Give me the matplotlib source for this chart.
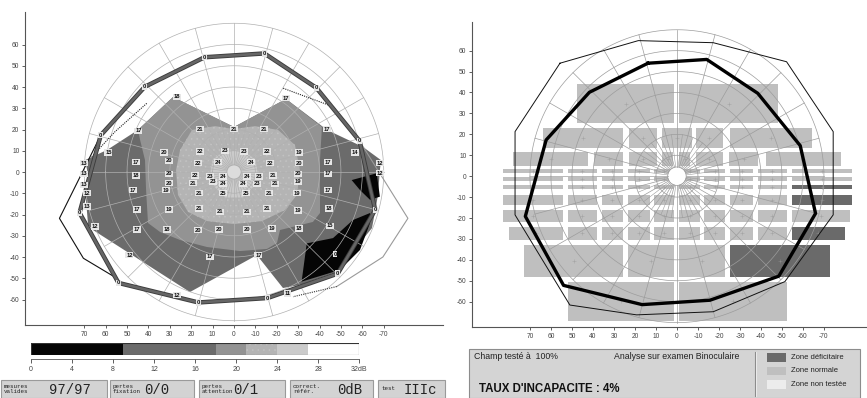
import matplotlib
matplotlib.use("Agg")
import matplotlib.pyplot as plt
from matplotlib.patches import Polygon, Rectangle, Circle
import numpy as np

plt.rcParams['font.family'] = ['Liberation Sans', 'DejaVu Sans']
plt.rcParams['axes.unicode_minus'] = False
plt.rcParams['hatch.linewidth'] = 0.4

# --- data (degrees of visual field) ---
# measured isopter, same on both charts
iso_x = [13.8, -14.2, -38.5, -58.7, -66.0, -48.5, -15.7, 16.6, 54.0, 72.2, 62.3, 41.7]
iso_y = [54.0, 55.8, 39.6, 14.6, -17.8, -47.8, -59.3, -61.4, -52.2, -19.2, 17.3, 40.1]

# normal reference isopter (right chart)
norm_x = [55.7, 18.4, -17.3, -52.2, -74.4, -74.4, -51.4, -17.3, 19.2, 51.0, 77.1, 77.1]
norm_y = [54.0, 64.8, 63.8, 54.7, 21.3, -18.5, -50.4, -64.8, -66.3, -61.6, -18.5, 21.3]

# extra reference traces on the left chart
ref_left_x = [62.3, 81.6, 70.4, 54.8, 54.0]
ref_left_y = [17.3, -21.8, -40.6, -50.0, -52.2]
ref_right_x = [-58.7, -81.3, -69.6, -48.0]
ref_right_y = [14.6, -21.8, -40.0, -53.9]
dot_low_x, dot_low_y = [-48.0, -27.6], [-53.9, -58.7]
dot_top_x, dot_top_y = [-23.0, -46.4, -58.7], [39.4, 30.7, 14.6]
dot_tl_x, dot_tl_y = [40.8, 55.6, 66.5], [32.3, 19.0, 7.2]

# sensitivity zones (dB classes) as outlines
zone_outer_x = [69.6, 68.2, 69.2, 68.2, 65.9, 20.6, -10.7, -22.9, -30.8, -47.7, -64.5, -65.9,
                -67.3, -68.2, -68.7, -60.3, -43.5, -24.3, 0.0, 28.5, 44.9, 59.3]
zone_outer_y = [5.6, -1.4, -13.2, -24.9, -27.3, -56.5, -39.1, -54.6, -53.2, -47.1, -26.4, -18.8,
                -10.8, 0.9, 5.6, 11.8, 19.8, 34.4, 21.2, 35.3, 19.8, 10.4]
zone_mid_x = [44.9, 28.5, 0.0, -24.3, -41.1, -40.2, -40.2, -36.9, -21.5, -20.1, -15.4, -2.8,
              12.6, 25.2, 34.6, 40.2, 41.1, 41.6, 43.9]
zone_mid_y = [19.8, 35.3, 21.2, 34.4, 21.2, 5.6, -19.3, -23.5, -27.3, -33.4, -36.2, -37.2,
              -35.3, -32.0, -28.2, -24.0, -8.5, 5.6, 15.1]
zone_light_x = [25.2, 19.6, 8.9, 0.0, -9.8, -20.6, -28.5, -30.8, -29.4, -23.8, -13.1, 0.0,
                12.6, 21.5, 26.2, 27.1]
zone_light_y = [10.4, 19.8, 21.6, 20.2, 21.6, 19.8, 12.7, 0.9, -10.8, -17.9, -23.1, -24.5,
                -23.1, -18.8, -10.8, 0.9]
zone_high_x = [10, 4, -4, -10, -11, -9, -4, 4, 9, 11]
zone_high_y = [6, 10, 10, 6, 0, -7, -12, -12, -7, 0]
black_a_x = [-31.6, -34.0, -46.3, -55.6, -63.6, -63.6, -58.9, -49.5]
black_a_y = [-51.6, -33.6, -31.1, -22.6, -19.3, -24.0, -36.7, -46.1]
black_b_x = [-55.0, -66.7, -68.2, -63.6, -58.9]
black_b_y = [-3.8, -0.6, -11.6, -13.1, -8.5]

# threshold values (dB) at test points
pt_x = [26.8, -24.3, 44.7, 15.9, -0.1, -14.2, -43.3, 58.7, 32.6, 15.9, 4.2, -4.7, -15.3, -30.4,
        -56.5, 70.1, 45.8, 30.4, 17.0, 7.3, -7.8, -16.8, -30.4, -44.1, -68.2, 70.1, 45.8, 30.4,
        18.2, 11.2, 5.3, -5.9, -11.5, -18.4, -29.8, -44.1, -68.2, 30.4, 19.3, 9.7, 5.3, -4.1,
        -10.6, -19.2, -30.0, 70.1, 47.1, 31.9, 16.2, 5.3, -5.6, -16.5, -29.3, -44.1, 68.7, 68.6,
        45.5, 30.2, 16.2, 6.5, -5.9, -15.6, -30.0, -44.5, 65.0, 45.5, 31.2, 16.7, 6.9, -5.9,
        -17.6, -30.5, -44.9, 48.9, 11.2, -11.4, 26.5, -24.9, -47.2]
pt_y = [35.4, 34.7, 19.4, 20.1, 20.1, 20.1, 20.1, 9.1, 9.1, 9.6, 10.0, 9.6, 9.6, 9.1, 9.1, 4.1,
        4.6, 5.3, 4.1, 4.6, 4.6, 4.1, 4.1, 4.6, 4.1, -0.9, -1.7, -0.9, -1.7, -2.2, -2.2, -2.2,
        -2.2, -1.7, -0.9, -0.9, -0.6, -5.2, -5.3, -4.6, -5.6, -5.6, -5.6, -5.6, -4.6, -6.1, -8.5,
        -8.5, -10.0, -10.0, -10.0, -10.0, -10.0, -8.5, -10.0, -16.3, -17.6, -17.6, -17.1, -18.7,
        -18.7, -17.1, -18.2, -17.1, -25.7, -27.0, -27.0, -27.3, -27.0, -27.0, -26.5, -26.5,
        -25.4, -39.1, -39.9, -39.1, -57.9, -57.1, -38.7]
pt_val = [18, 17, 17, 21, 21, 21, 17, 15, 20, 22, 23, 23, 22, 19, 14, 13, 17, 20, 22, 24, 24,
          22, 20, 17, 12, 13, 18, 20, 22, 23, 24, 24, 23, 21, 20, 17, 12, 20, 21, 23, 24, 24,
          23, 21, 19, 13, 17, 19, 21, 25, 25, 21, 19, 17, 12, 13, 17, 19, 21, 21, 21, 21, 19, 18,
          12, 17, 18, 20, 20, 20, 19, 18, 15, 12, 17, 17, 12, 11, 0]

# grey scale classes
scale_edges = [0, 9, 18, 21, 24, 27, 32]
scale_colors = ['#050505', '#6b6b6b', '#939393', '#b4b4b4', '#cbcbcb', '#ffffff']
scale_ticks = [0, 4, 8, 12, 16, 20, 24, 28, 32]
DOTTED = '#b4b4b4'

# Esterman grid (right chart): row bounds and column bounds in degrees
row_top = [44.1, 23.2, 11.7, 3.3, -0.4, -4.3, -9.0, -16.2, -24.3, -32.9, -50.6]
row_bottom = [25.3, 13.5, 5.1, 1.7, -2.2, -6.3, -13.8, -21.7, -30.5, -48.2, -69.2]
mid_cols = [(82.7, 54.1), (51.8, 38.2), (35.9, 25.6), (23.2, 12.9), (11.0, 1.4), (-1.0, -11.0),
            (-12.9, -22.9), (-25.2, -36.3), (-38.7, -52.2), (-54.6, -83.2)]
row_cols = [
    [(47.8, 1.2), (-1.0, -48.2)],
    [(63.7, 25.6), (22.9, 9.7), (7.0, -7.0), (-8.9, -22.0), (-25.2, -64.1)],
    [(77.9, 42.2), (39.5, 25.6), (22.9, 9.7), (7.0, 1.8), (-1.0, -6.2), (-8.9, -22.0),
     (-24.8, -38.7), (-42.2, -78.1)],
    mid_cols, mid_cols, mid_cols, mid_cols,
    mid_cols[:-1] + [(-54.6, -82.4)],
    [(79.9, 54.1)] + mid_cols[1:-1] + [(-54.6, -80.0)],
    [(72.9, 25.6), (23.2, 1.4), (-1.0, -22.9), (-25.2, -72.9)],
    [(51.8, 1.4), (-1.0, -52.2)],
]
deficit_cells = [(5, 9), (6, 9), (8, 9), (9, 3)]

axis_ticks_x = [70, 60, 50, 40, 30, 20, 10, 0, -10, -20, -30, -40, -50, -60, -70]
axis_ticks_y = [60, 50, 40, 30, 20, 10, 0, -10, -20, -30, -40, -50, -60]
ring_radii = [10, 20, 30, 40, 50, 60, 70]


def setup_axes(ax, xlim, ylim):
    ax.set_xlim(*xlim)
    ax.set_ylim(*ylim)
    ax.spines['top'].set_visible(False)
    ax.spines['right'].set_visible(False)
    for s in ('left', 'bottom'):
        ax.spines[s].set_color('#555555')
        ax.spines[s].set_linewidth(0.8)
    ax.set_xticks(axis_ticks_x)
    ax.set_xticklabels([str(v) for v in axis_ticks_x])
    ax.set_yticks(axis_ticks_y)
    ax.set_yticklabels([str(v) for v in axis_ticks_y])
    ax.tick_params(labelsize=4.8, length=2.5, width=0.6, pad=1.5, colors='#444444')


def polar_grid(ax, color, r0):
    t = np.linspace(0, 2 * np.pi, 361)
    for r in ring_radii:
        ax.plot(r * np.cos(t), r * np.sin(t), color=color, lw=0.5, zorder=3)
    for a in np.deg2rad(np.arange(0, 360, 15)):
        ax.plot([r0 * np.cos(a), 70 * np.cos(a)], [r0 * np.sin(a), 70 * np.sin(a)],
                color=color, lw=0.5, zorder=3)
    for a in np.deg2rad(np.arange(7.5, 360, 15)):
        ax.plot([r0 * np.cos(a), 20 * np.cos(a)], [r0 * np.sin(a), 20 * np.sin(a)],
                color=color, lw=0.4, zorder=3)


fig = plt.figure(figsize=(8.67, 3.98), dpi=100)
fig.patch.set_facecolor('white')

# ---------------- left: threshold map ----------------
ax1 = fig.add_axes([25 / 867, 73 / 398, 418 / 867, 313 / 398])
setup_axes(ax1, (97.7, -97.7), (-72.0, 75.3))

zones = [
    (zone_outer_x, zone_outer_y, scale_colors[1]),
    (zone_mid_x, zone_mid_y, scale_colors[2]),
    (zone_light_x, zone_light_y, scale_colors[3]),
    (zone_high_x, zone_high_y, scale_colors[4]),
    (black_a_x, black_a_y, scale_colors[0]),
    (black_b_x, black_b_y, scale_colors[0]),
]
for zx, zy, col in zones:
    dotted = col == DOTTED
    ax1.add_patch(Polygon(np.column_stack([zx, zy]), closed=True, facecolor=col,
                          edgecolor='#c3c3c3' if dotted else 'none',
                          hatch='...' if dotted else None, lw=0, zorder=1))
ax1.add_patch(Circle((0, 0), 3.3, facecolor='#dcdcdc', edgecolor='#aaaaaa', lw=0.5, zorder=4))
polar_grid(ax1, '#b0b0b0', 3.3)

ax1.plot(ref_left_x, ref_left_y, color='#111111', lw=0.8, zorder=4)
ax1.plot(ref_right_x, ref_right_y, color='#9a9a9a', lw=0.8, zorder=4)
ax1.plot(dot_low_x, dot_low_y, color='#333333', lw=0.8, ls=(0, (1, 1)), zorder=4)
ax1.plot(dot_top_x, dot_top_y, color='#222222', lw=0.8, ls=(0, (1, 1)), zorder=4)
ax1.plot(dot_tl_x, dot_tl_y, color='#222222', lw=0.8, ls=(0, (1, 1)), zorder=4)

ix = iso_x + iso_x[:1]
iy = iso_y + iso_y[:1]
ax1.plot(ix, iy, color='#3c3c3c', lw=3.2, zorder=5, solid_joinstyle='round')
ax1.plot(ix, iy, color='#666666', lw=1.9, zorder=5, solid_joinstyle='round')

lbl_box = dict(boxstyle='square,pad=0.12', fc='#e6e6e6', ec='none')
for x, y, v in zip(pt_x, pt_y, pt_val):
    ax1.text(x, y, str(v), fontsize=4.2, fontweight='bold', ha='center', va='center',
             color='#111111', bbox=lbl_box, zorder=6)
for x, y in zip(iso_x, iso_y):
    ax1.text(x, y, '0', fontsize=4.2, fontweight='bold', ha='center', va='center',
             color='#111111', bbox=lbl_box, zorder=6)

# grey scale bar
axc = fig.add_axes([31 / 867, 43 / 398, 328.3 / 867, 11.7 / 398])
for lo, hi, col in zip(scale_edges[:-1], scale_edges[1:], scale_colors):
    dotted = col == DOTTED
    axc.barh(0, hi - lo, left=lo, height=1, color=col, hatch='...' if dotted else None,
             edgecolor='#c3c3c3' if dotted else 'none', lw=0)
axc.set_xlim(0, 32)
axc.set_ylim(-0.5, 0.5)
axc.add_patch(Rectangle((0, 0), 1, 1, transform=axc.transAxes, fill=False,
                        edgecolor='#333333', lw=0.8, zorder=3))
for s in ('top', 'right', 'left'):
    axc.spines[s].set_visible(False)
axc.spines['bottom'].set_position(('outward', 3))
axc.spines['bottom'].set_color('#555555')
axc.spines['bottom'].set_linewidth(0.6)
axc.set_yticks([])
axc.set_xticks(scale_ticks)
axc.set_xticklabels([str(v) for v in scale_ticks[:-1]] + ['32dB'])
axc.tick_params(labelsize=5, length=3, width=0.6, pad=2, colors='#444444')

# ---------------- right: Esterman grid ----------------
ax2 = fig.add_axes([472 / 867, 71 / 398, 395 / 867, 305 / 398])
setup_axes(ax2, (97.6, -90.5), (-72.1, 73.7))

for ri, (top, bot, cols) in enumerate(zip(row_top, row_bottom, row_cols)):
    for ci, (xa, xb) in enumerate(cols):
        col = '#6a6a6a' if (ri, ci) in deficit_cells else '#bfbfbf'
        ax2.add_patch(Rectangle((xb, bot), xa - xb, top - bot, facecolor=col,
                                edgecolor='none', zorder=1))
        ax2.plot((xa + xb) / 2, (top + bot) / 2, '+', ms=2.2, mew=0.4,
                 color='#a5a5a5' if col == '#bfbfbf' else '#888888', zorder=2)
ax2.add_patch(Circle((0, 0), 4.4, facecolor='white', edgecolor='#999999', lw=0.5, zorder=2))
polar_grid(ax2, '#9c9c9c', 4.4)
ax2.plot(norm_x + norm_x[:1], norm_y + norm_y[:1], color='#111111', lw=0.7, zorder=4)
ax2.plot(ix, iy, color='#000000', lw=2.4, zorder=5)

# ---------------- status panels ----------------
ov = fig.add_axes([0, 0, 1, 1])
ov.set_xlim(0, 867)
ov.set_ylim(398, 0)
ov.axis('off')
ov.patch.set_visible(False)

status_boxes = [
    (1, 107, 'mesures\nvalides', '97/97', 49),
    (110, 194, 'pertes\nfixation', '0/0', 144),
    (199, 285, 'pertes\nattention', '0/1', 233),
    (290, 373, 'correct.\nréfér.', '0dB', 337),
    (378, 445, 'test', 'IIIc', 404),
]
for x0, x1, small, big, xv in status_boxes:
    ov.add_patch(Rectangle((x0, 380), x1 - x0, 18, facecolor='#d3d3d3',
                           edgecolor='#9a9a9a', lw=0.8))
    ov.text(x0 + 3, 389, small, fontsize=4.2, family='Liberation Mono', va='center',
            ha='left', color='#222222', linespacing=0.95)
    ov.text(xv, 389.5, big, fontsize=10, family='Liberation Mono', va='center',
            ha='left', color='#222222')

# result panel with legend
ov.add_patch(Rectangle((469, 349), 391, 48.5, facecolor='#d4d4d4', edgecolor='#8c8c8c', lw=0.8))
ov.plot([755, 755], [352, 396], color='#8c8c8c', lw=0.8)
ov.plot([756, 756], [352, 396], color='#f0f0f0', lw=0.6)
ov.text(474, 356.5, 'Champ testé à  100%', fontsize=6.3, va='center', ha='left', color='#222222')
ov.text(614, 356.5, 'Analyse sur examen Binoculaire', fontsize=6.3, va='center', ha='left',
        color='#222222')
ov.text(479, 388.5, "TAUX D'INCAPACITE : 4%", fontsize=8.3, fontweight='bold', va='center',
        ha='left', color='#111111')
legend_items = [('#6a6a6a', 'Zone déficitaire'), ('#bfbfbf', 'Zone normale'),
                ('#ececec', 'Zone non testée')]
for k, (col, txt) in enumerate(legend_items):
    yk = 353 + k * 13.5
    ov.add_patch(Rectangle((767, yk), 19, 8.5, facecolor=col, edgecolor='none'))
    ov.text(791, yk + 4.5, txt, fontsize=5.5, va='center', ha='left', color='#222222')

fig.savefig('out.png', dpi=100, facecolor='white')
